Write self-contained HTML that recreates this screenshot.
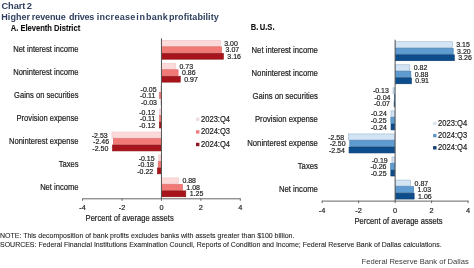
<!DOCTYPE html>
<html><head><meta charset="utf-8"><style>
html,body{margin:0;padding:0;background:#fff;width:474px;height:268px;overflow:hidden}
svg{display:block;will-change:transform}
text{font-family:"Liberation Sans",sans-serif;fill:#222}
.lab,.labR,.val,.tick,.leg{stroke:#222;stroke-width:0.18px}
.note{stroke:#222;stroke-width:0.08px}
.title{font-weight:bold;fill:#30415f;font-size:9px}
.sub{font-weight:bold;font-size:7.6px;fill:#111;stroke:#111;stroke-width:0.1px}
.lab{font-size:7.6px}
.labR{font-size:7.72px}
.val{font-size:7px}
.tick{font-size:7.4px}
.leg{font-size:7.6px}
.note{font-size:7px}
.src{font-size:7.6px;fill:#3a3a3a}
</style></head><body>
<svg width="474" height="268" viewBox="0 0 474 268">
<text x="1.50" y="9.15" class="title" letter-spacing="-0.1" word-spacing="-1.0" style="font-size:9.3px">Chart 2</text>
<g class="title"><text x="1.32" y="20.3" class="title" letter-spacing="0.047">Higher</text><text x="31.87" y="20.3" class="title" letter-spacing="-0.11">revenue</text><text x="69.0" y="20.3" class="title" letter-spacing="-0.259">drives</text><text x="96.71" y="20.3" class="title" letter-spacing="0.3">increase</text><text x="136.37" y="20.3" class="title" letter-spacing="0.693">in</text><text x="146.04" y="20.3" class="title" letter-spacing="0.2">bank</text><text x="169.01" y="20.3" class="title" letter-spacing="0.059">profitability</text></g>
<text transform="translate(10.70 31.35) scale(1 1.1)" x="0" y="0" class="sub">A. Eleventh District</text>
<text transform="translate(250.80 29.90) scale(1 1.1)" x="0" y="0" class="sub" letter-spacing="-0.02" word-spacing="-0.6">B. U.S.</text>
<rect x="161.75" y="40.32" width="58.54" height="5.90" fill="#fcdada" stroke="#eec4c6" stroke-width="0.6"/>
<rect x="161.75" y="46.82" width="59.92" height="5.90" fill="#f17a76" stroke="#dc6663" stroke-width="0.6"/>
<rect x="161.75" y="53.31" width="61.69" height="5.90" fill="#a8141b" stroke="#8e0f15" stroke-width="0.6"/>
<rect x="161.75" y="63.25" width="13.79" height="5.90" fill="#fcdada" stroke="#eec4c6" stroke-width="0.6"/>
<rect x="161.75" y="69.74" width="16.35" height="5.90" fill="#f17a76" stroke="#dc6663" stroke-width="0.6"/>
<rect x="161.75" y="76.24" width="18.52" height="5.90" fill="#a8141b" stroke="#8e0f15" stroke-width="0.6"/>
<rect x="160.76" y="86.18" width="0.39" height="5.90" fill="#fcdada" stroke="#eec4c6" stroke-width="0.6"/>
<rect x="159.58" y="92.67" width="1.57" height="5.90" fill="#f17a76" stroke="#dc6663" stroke-width="0.6"/>
<rect x="161.16" y="99.17" width="0.10" height="5.90" fill="#a8141b" stroke="#8e0f15" stroke-width="0.6"/>
<rect x="159.38" y="109.11" width="1.77" height="5.90" fill="#fcdada" stroke="#eec4c6" stroke-width="0.6"/>
<rect x="159.58" y="115.60" width="1.57" height="5.90" fill="#f17a76" stroke="#dc6663" stroke-width="0.6"/>
<rect x="159.38" y="122.10" width="1.77" height="5.90" fill="#a8141b" stroke="#8e0f15" stroke-width="0.6"/>
<rect x="111.88" y="132.03" width="49.27" height="5.90" fill="#fcdada" stroke="#eec4c6" stroke-width="0.6"/>
<rect x="113.26" y="138.53" width="47.89" height="5.90" fill="#f17a76" stroke="#dc6663" stroke-width="0.6"/>
<rect x="112.47" y="145.03" width="48.68" height="5.90" fill="#a8141b" stroke="#8e0f15" stroke-width="0.6"/>
<rect x="158.79" y="154.96" width="2.36" height="5.90" fill="#fcdada" stroke="#eec4c6" stroke-width="0.6"/>
<rect x="158.20" y="161.46" width="2.95" height="5.90" fill="#f17a76" stroke="#dc6663" stroke-width="0.6"/>
<rect x="157.41" y="167.96" width="3.74" height="5.90" fill="#a8141b" stroke="#8e0f15" stroke-width="0.6"/>
<rect x="161.75" y="177.89" width="16.75" height="5.90" fill="#fcdada" stroke="#eec4c6" stroke-width="0.6"/>
<rect x="161.75" y="184.39" width="20.69" height="5.90" fill="#f17a76" stroke="#dc6663" stroke-width="0.6"/>
<rect x="161.75" y="190.88" width="24.04" height="5.90" fill="#a8141b" stroke="#8e0f15" stroke-width="0.6"/>
<text transform="translate(78.50 52.06) scale(1 1.08)" x="0" y="0" class="lab" text-anchor="end">Net interest income</text>
<text transform="translate(224.19 45.87) scale(1 1.15)" x="0" y="0" class="val">3.00</text>
<text transform="translate(225.57 52.36) scale(1 1.15)" x="0" y="0" class="val">3.07</text>
<text transform="translate(227.34 58.86) scale(1 1.15)" x="0" y="0" class="val">3.16</text>
<text transform="translate(78.50 74.99) scale(1 1.08)" x="0" y="0" class="lab" text-anchor="end">Noninterest income</text>
<text transform="translate(179.44 68.80) scale(1 1.15)" x="0" y="0" class="val">0.73</text>
<text transform="translate(182.00 75.29) scale(1 1.15)" x="0" y="0" class="val">0.86</text>
<text transform="translate(184.17 81.79) scale(1 1.15)" x="0" y="0" class="val">0.97</text>
<text transform="translate(78.50 97.92) scale(1 1.08)" x="0" y="0" class="lab" text-anchor="end">Gains on securities</text>
<text transform="translate(156.56 91.72) scale(1 1.15)" x="0" y="0" class="val" text-anchor="end">-0.05</text>
<text transform="translate(155.38 98.22) scale(1 1.15)" x="0" y="0" class="val" text-anchor="end">-0.11</text>
<text transform="translate(156.96 104.72) scale(1 1.15)" x="0" y="0" class="val" text-anchor="end">-0.03</text>
<text transform="translate(78.50 120.85) scale(1 1.08)" x="0" y="0" class="lab" text-anchor="end">Provision expense</text>
<text transform="translate(155.18 114.65) scale(1 1.15)" x="0" y="0" class="val" text-anchor="end">-0.12</text>
<text transform="translate(155.38 121.15) scale(1 1.15)" x="0" y="0" class="val" text-anchor="end">-0.11</text>
<text transform="translate(155.18 127.65) scale(1 1.15)" x="0" y="0" class="val" text-anchor="end">-0.12</text>
<text transform="translate(78.50 143.78) scale(1 1.08)" x="0" y="0" class="lab" text-anchor="end">Noninterest expense</text>
<text transform="translate(107.68 137.58) scale(1 1.15)" x="0" y="0" class="val" text-anchor="end">-2.53</text>
<text transform="translate(109.06 144.08) scale(1 1.15)" x="0" y="0" class="val" text-anchor="end">-2.46</text>
<text transform="translate(108.27 150.57) scale(1 1.15)" x="0" y="0" class="val" text-anchor="end">-2.50</text>
<text transform="translate(78.50 166.71) scale(1 1.08)" x="0" y="0" class="lab" text-anchor="end">Taxes</text>
<text transform="translate(154.59 160.51) scale(1 1.15)" x="0" y="0" class="val" text-anchor="end">-0.15</text>
<text transform="translate(154.00 167.01) scale(1 1.15)" x="0" y="0" class="val" text-anchor="end">-0.18</text>
<text transform="translate(153.21 173.50) scale(1 1.15)" x="0" y="0" class="val" text-anchor="end">-0.22</text>
<text transform="translate(78.50 189.64) scale(1 1.08)" x="0" y="0" class="lab" text-anchor="end">Net income</text>
<text transform="translate(182.40 183.44) scale(1 1.15)" x="0" y="0" class="val">0.88</text>
<text transform="translate(186.34 189.94) scale(1 1.15)" x="0" y="0" class="val">1.08</text>
<text transform="translate(189.69 196.43) scale(1 1.15)" x="0" y="0" class="val">1.25</text>
<rect x="160.95" y="38.30" width="1" height="160.50" fill="#555"/>
<rect x="82.60" y="198.30" width="157.70" height="1" fill="#666"/>
<rect x="82.10" y="198.30" width="1" height="2.5" fill="#666"/>
<text transform="translate(82.60 209.60) scale(1 1.08)" x="0" y="0" class="tick" text-anchor="middle">-4</text>
<rect x="121.52" y="198.30" width="1" height="2.5" fill="#666"/>
<text transform="translate(122.02 209.60) scale(1 1.08)" x="0" y="0" class="tick" text-anchor="middle">-2</text>
<rect x="160.95" y="198.30" width="1" height="2.5" fill="#666"/>
<text transform="translate(161.45 209.60) scale(1 1.08)" x="0" y="0" class="tick" text-anchor="middle">0</text>
<rect x="200.38" y="198.30" width="1" height="2.5" fill="#666"/>
<text transform="translate(200.88 209.60) scale(1 1.08)" x="0" y="0" class="tick" text-anchor="middle">2</text>
<rect x="239.80" y="198.30" width="1" height="2.5" fill="#666"/>
<text transform="translate(240.30 209.60) scale(1 1.08)" x="0" y="0" class="tick" text-anchor="middle">4</text>
<text transform="translate(85.60 220.60) scale(1 1.08)" x="0" y="0" class="lab">Percent of average assets</text>
<rect x="196.00" y="117.60" width="3.4" height="3.4" fill="#f0dde0"/>
<text transform="translate(201.00 121.80) scale(1 1.08)" x="0" y="0" class="leg">2023:Q4</text>
<rect x="196.00" y="130.20" width="3.4" height="3.4" fill="#ef7d7f"/>
<text transform="translate(201.00 134.40) scale(1 1.08)" x="0" y="0" class="leg">2024:Q3</text>
<rect x="196.00" y="142.80" width="3.4" height="3.4" fill="#8e1422"/>
<text transform="translate(201.00 147.00) scale(1 1.08)" x="0" y="0" class="leg">2024:Q4</text>
<rect x="395.40" y="41.73" width="56.89" height="5.93" fill="#d3e5f5" stroke="#98b4cf" stroke-width="0.6"/>
<rect x="395.40" y="48.26" width="57.80" height="5.93" fill="#5d9bd0" stroke="#3e79ad" stroke-width="0.6"/>
<rect x="395.40" y="54.79" width="58.89" height="5.93" fill="#0d4d8c" stroke="#083a6c" stroke-width="0.6"/>
<rect x="395.40" y="64.79" width="14.37" height="5.93" fill="#d3e5f5" stroke="#98b4cf" stroke-width="0.6"/>
<rect x="395.40" y="71.32" width="15.46" height="5.93" fill="#5d9bd0" stroke="#3e79ad" stroke-width="0.6"/>
<rect x="395.40" y="77.85" width="16.01" height="5.93" fill="#0d4d8c" stroke="#083a6c" stroke-width="0.6"/>
<rect x="393.03" y="87.84" width="1.77" height="5.93" fill="#d3e5f5" stroke="#98b4cf" stroke-width="0.6"/>
<rect x="394.67" y="94.38" width="0.13" height="5.93" fill="#5d9bd0" stroke="#3e79ad" stroke-width="0.6"/>
<rect x="394.12" y="100.91" width="0.68" height="5.93" fill="#0d4d8c" stroke="#083a6c" stroke-width="0.6"/>
<rect x="391.02" y="110.90" width="3.78" height="5.93" fill="#d3e5f5" stroke="#98b4cf" stroke-width="0.6"/>
<rect x="390.84" y="117.43" width="3.96" height="5.93" fill="#5d9bd0" stroke="#3e79ad" stroke-width="0.6"/>
<rect x="391.02" y="123.97" width="3.78" height="5.93" fill="#0d4d8c" stroke="#083a6c" stroke-width="0.6"/>
<rect x="348.32" y="133.96" width="46.48" height="5.93" fill="#d3e5f5" stroke="#98b4cf" stroke-width="0.6"/>
<rect x="349.78" y="140.49" width="45.02" height="5.93" fill="#5d9bd0" stroke="#3e79ad" stroke-width="0.6"/>
<rect x="349.05" y="147.02" width="45.76" height="5.93" fill="#0d4d8c" stroke="#083a6c" stroke-width="0.6"/>
<rect x="391.93" y="157.01" width="2.87" height="5.93" fill="#d3e5f5" stroke="#98b4cf" stroke-width="0.6"/>
<rect x="390.66" y="163.55" width="4.15" height="5.93" fill="#5d9bd0" stroke="#3e79ad" stroke-width="0.6"/>
<rect x="390.84" y="170.08" width="3.96" height="5.93" fill="#0d4d8c" stroke="#083a6c" stroke-width="0.6"/>
<rect x="395.40" y="180.07" width="15.28" height="5.93" fill="#d3e5f5" stroke="#98b4cf" stroke-width="0.6"/>
<rect x="395.40" y="186.61" width="18.20" height="5.93" fill="#5d9bd0" stroke="#3e79ad" stroke-width="0.6"/>
<rect x="395.40" y="193.14" width="18.75" height="5.93" fill="#0d4d8c" stroke="#083a6c" stroke-width="0.6"/>
<text transform="translate(317.90 53.28) scale(1 1.08)" x="0" y="0" class="labR" text-anchor="end">Net interest income</text>
<text transform="translate(456.19 47.30) scale(1 1.15)" x="0" y="0" class="val">3.15</text>
<text transform="translate(457.10 53.83) scale(1 1.15)" x="0" y="0" class="val">3.20</text>
<text transform="translate(458.20 60.36) scale(1 1.15)" x="0" y="0" class="val">3.26</text>
<text transform="translate(317.90 76.34) scale(1 1.08)" x="0" y="0" class="labR" text-anchor="end">Noninterest income</text>
<text transform="translate(413.67 70.35) scale(1 1.15)" x="0" y="0" class="val">0.82</text>
<text transform="translate(414.76 76.89) scale(1 1.15)" x="0" y="0" class="val">0.88</text>
<text transform="translate(415.31 83.42) scale(1 1.15)" x="0" y="0" class="val">0.91</text>
<text transform="translate(317.90 99.39) scale(1 1.08)" x="0" y="0" class="labR" text-anchor="end">Gains on securities</text>
<text transform="translate(388.83 93.41) scale(1 1.15)" x="0" y="0" class="val" text-anchor="end">-0.13</text>
<text transform="translate(390.47 99.94) scale(1 1.15)" x="0" y="0" class="val" text-anchor="end">-0.04</text>
<text transform="translate(389.92 106.48) scale(1 1.15)" x="0" y="0" class="val" text-anchor="end">-0.07</text>
<text transform="translate(317.90 122.45) scale(1 1.08)" x="0" y="0" class="labR" text-anchor="end">Provision expense</text>
<text transform="translate(386.82 116.47) scale(1 1.15)" x="0" y="0" class="val" text-anchor="end">-0.24</text>
<text transform="translate(386.64 123.00) scale(1 1.15)" x="0" y="0" class="val" text-anchor="end">-0.25</text>
<text transform="translate(386.82 129.53) scale(1 1.15)" x="0" y="0" class="val" text-anchor="end">-0.24</text>
<text transform="translate(317.90 145.51) scale(1 1.08)" x="0" y="0" class="labR" text-anchor="end">Noninterest expense</text>
<text transform="translate(344.12 139.52) scale(1 1.15)" x="0" y="0" class="val" text-anchor="end">-2.58</text>
<text transform="translate(345.58 146.06) scale(1 1.15)" x="0" y="0" class="val" text-anchor="end">-2.50</text>
<text transform="translate(344.85 152.59) scale(1 1.15)" x="0" y="0" class="val" text-anchor="end">-2.54</text>
<text transform="translate(317.90 168.56) scale(1 1.08)" x="0" y="0" class="labR" text-anchor="end">Taxes</text>
<text transform="translate(387.73 162.58) scale(1 1.15)" x="0" y="0" class="val" text-anchor="end">-0.19</text>
<text transform="translate(386.46 169.11) scale(1 1.15)" x="0" y="0" class="val" text-anchor="end">-0.26</text>
<text transform="translate(386.64 175.65) scale(1 1.15)" x="0" y="0" class="val" text-anchor="end">-0.25</text>
<text transform="translate(317.90 191.62) scale(1 1.08)" x="0" y="0" class="labR" text-anchor="end">Net income</text>
<text transform="translate(414.58 185.64) scale(1 1.15)" x="0" y="0" class="val">0.87</text>
<text transform="translate(417.50 192.17) scale(1 1.15)" x="0" y="0" class="val">1.03</text>
<text transform="translate(418.05 198.70) scale(1 1.15)" x="0" y="0" class="val">1.06</text>
<rect x="394.60" y="39.70" width="1" height="161.40" fill="#555"/>
<rect x="322.10" y="200.60" width="146.00" height="1" fill="#666"/>
<rect x="321.60" y="200.60" width="1" height="2.5" fill="#666"/>
<text transform="translate(322.10 212.80) scale(1 1.08)" x="0" y="0" class="tick" text-anchor="middle">-4</text>
<rect x="358.10" y="200.60" width="1" height="2.5" fill="#666"/>
<text transform="translate(358.60 212.80) scale(1 1.08)" x="0" y="0" class="tick" text-anchor="middle">-2</text>
<rect x="394.60" y="200.60" width="1" height="2.5" fill="#666"/>
<text transform="translate(395.10 212.80) scale(1 1.08)" x="0" y="0" class="tick" text-anchor="middle">0</text>
<rect x="431.10" y="200.60" width="1" height="2.5" fill="#666"/>
<text transform="translate(431.60 212.80) scale(1 1.08)" x="0" y="0" class="tick" text-anchor="middle">2</text>
<rect x="467.60" y="200.60" width="1" height="2.5" fill="#666"/>
<text transform="translate(468.10 212.80) scale(1 1.08)" x="0" y="0" class="tick" text-anchor="middle">4</text>
<text transform="translate(354.50 223.80) scale(1 1.08)" x="0" y="0" class="lab">Percent of average assets</text>
<rect x="433.10" y="121.70" width="3.4" height="3.4" fill="#d8e4ee"/>
<text transform="translate(438.10 125.90) scale(1 1.08)" x="0" y="0" class="leg">2023:Q4</text>
<rect x="433.10" y="133.90" width="3.4" height="3.4" fill="#5f95c4"/>
<text transform="translate(438.10 138.10) scale(1 1.08)" x="0" y="0" class="leg">2024:Q3</text>
<rect x="433.10" y="146.10" width="3.4" height="3.4" fill="#123f6e"/>
<text transform="translate(438.10 150.30) scale(1 1.08)" x="0" y="0" class="leg">2024:Q4</text>
<text transform="translate(0.00 238.40) scale(1 1.08)" x="0" y="0" class="note">NOTE: This decomposition of bank profits excludes banks with assets greater than $100 billion.</text>
<text transform="translate(0.00 247.30) scale(1 1.08)" x="0" y="0" class="note">SOURCES: Federal Financial Institutions Examination Council, Reports of Condition and Income; Federal Reserve Bank of Dallas calculations.</text>
<text transform="translate(468.70 263.90) scale(1 1.03)" x="0" y="0" class="src" text-anchor="end">Federal Reserve Bank of Dallas</text>
</svg>
</body></html>
